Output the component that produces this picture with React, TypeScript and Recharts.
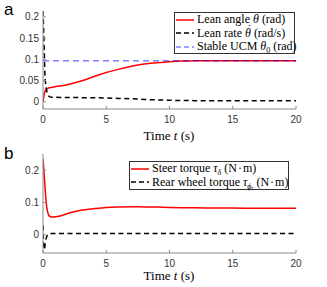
import React from "react";
import { LineChart, Line, XAxis, YAxis } from "recharts";

const times = [0, 0.05, 0.1, 0.15, 0.2, 0.3, 0.4, 0.5, 0.7, 1, 1.5, 2, 3, 4, 5, 6, 7, 8, 9, 10, 11, 12, 14, 16, 18, 20];
const leanAngle = [0, 0.01, 0.018, 0.024, 0.027, 0.03, 0.032, 0.033, 0.034, 0.036, 0.038, 0.041, 0.049, 0.059, 0.069, 0.077, 0.084, 0.089, 0.092, 0.0945, 0.096, 0.0965, 0.097, 0.097, 0.097, 0.097];
const leanRate = [0.214, 0.17, 0.12, 0.065, 0.045, 0.025, 0.016, 0.012, 0.0105, 0.0105, 0.0103, 0.01, 0.0098, 0.0094, 0.009, 0.008, 0.007, 0.0055, 0.0045, 0.0035, 0.003, 0.0027, 0.0025, 0.0024, 0.0024, 0.0024];
const stableUCM = times.map(() => 0.097);
const steerTorque = [0.235, 0.21, 0.18, 0.155, 0.125, 0.085, 0.066, 0.058, 0.055, 0.056, 0.06, 0.067, 0.076, 0.081, 0.085, 0.0865, 0.087, 0.0865, 0.086, 0.085, 0.084, 0.0835, 0.083, 0.0825, 0.0825, 0.0825];
const rearTorque = [0.03, -0.03, -0.045, -0.035, -0.02, -0.005, 0.001, 0.003, 0.004, 0.0045, 0.0045, 0.0045, 0.0045, 0.0045, 0.0045, 0.0045, 0.0045, 0.0045, 0.0045, 0.0045, 0.0045, 0.0045, 0.0045, 0.0045, 0.0045, 0.0045];

const xTicks = [0, 5, 10, 15, 20];
const yTicksA = [0, 0.05, 0.1, 0.15, 0.2];
const yTicksB = [0, 0.1, 0.2];

const dataA = times.map((t, i) => ({ t, lean: leanAngle[i], rate: leanRate[i], ucm: stableUCM[i] }));
const dataB = times.map((t, i) => ({ t, steer: steerTorque[i], rear: rearTorque[i] }));

const FRAME = "#8a8a8a";
const sans = "'Liberation Sans', Arial, sans-serif";
const tickStyle = { fontSize: 10, fill: "#333", fontFamily: sans };
const serif = "'Liberation Serif', 'Times New Roman', serif";
const empty = () => "";

const Sub = ({ children, size = 8, drop = 3 }: any) => (
  <span style={{ fontSize: size, position: "relative", top: drop, lineHeight: 0 }}>{children}</span>
);

const DotTheta = () => (
  <span style={{ position: "relative", display: "inline-block" }}>
    <i>θ</i>
    <span style={{ position: "absolute", left: 2.5, top: -4, fontSize: 12, lineHeight: "12px" }}>˙</span>
  </span>
);

const LegendRow = ({ color, dash, opacity, children }: any) => (
  <div style={{ display: "flex", alignItems: "center", height: 13.6, whiteSpace: "nowrap" }}>
    <svg width={20} height={6} style={{ marginRight: 2, flex: "none" }}>
      <line x1={1} y1={3} x2={19} y2={3} stroke={color} strokeWidth={1.5} strokeDasharray={dash} strokeOpacity={opacity ?? 1} />
    </svg>
    <span>{children}</span>
  </div>
);

export default function App() {
  const axisCommon = { stroke: FRAME, tickSize: -3 } as any;
  return (
    <div style={{ position: "absolute", left: 0, top: 0, width: 327, height: 287, background: "#fff", fontFamily: serif, color: "#000" }}>
      <div style={{ position: "absolute", left: 0, top: 0 }}>
        <LineChart width={327} height={140} data={dataA} margin={{ top: 11, right: 31, left: 0, bottom: 0 }}>
          <XAxis dataKey="t" type="number" domain={[0, 20]} ticks={xTicks} {...axisCommon} tickMargin={10} tick={tickStyle} height={31} allowDataOverflow />
          <XAxis xAxisId="top" orientation="top" dataKey="t" type="number" domain={[0, 20]} ticks={xTicks} {...axisCommon} tickFormatter={empty} height={0} />
          <YAxis type="number" domain={[-0.017, 0.214]} ticks={yTicksA} {...axisCommon} tickMargin={7} tick={tickStyle} width={43} allowDataOverflow />
          <YAxis yAxisId="right" orientation="right" type="number" domain={[-0.017, 0.214]} ticks={yTicksA} {...axisCommon} tickFormatter={empty} width={0} />
          <Line dataKey="lean" stroke="#ff0000" strokeWidth={1.5} dot={false} type="monotone" isAnimationActive={false} />
          <Line dataKey="rate" stroke="#000" strokeWidth={1.5} strokeDasharray="5 3.5" dot={false} type="monotone" isAnimationActive={false} />
          <Line dataKey="ucm" stroke="#0000ff" strokeOpacity={0.5} strokeWidth={1.5} strokeDasharray="6 4" dot={false} type="linear" isAnimationActive={false} />
        </LineChart>
      </div>
      <div style={{ position: "absolute", left: 0, top: 140 }}>
        <LineChart width={327} height={147} data={dataB} margin={{ top: 14, right: 31, left: 0, bottom: 0 }}>
          <XAxis dataKey="t" type="number" domain={[0, 20]} ticks={xTicks} {...axisCommon} tickMargin={10} tick={tickStyle} height={34} allowDataOverflow />
          <XAxis xAxisId="top" orientation="top" dataKey="t" type="number" domain={[0, 20]} ticks={xTicks} {...axisCommon} tickFormatter={empty} height={0} />
          <YAxis type="number" domain={[-0.056, 0.25]} ticks={yTicksB} {...axisCommon} tickMargin={7} tick={tickStyle} width={43} allowDataOverflow />
          <YAxis yAxisId="right" orientation="right" type="number" domain={[-0.056, 0.25]} ticks={yTicksB} {...axisCommon} tickFormatter={empty} width={0} />
          <Line dataKey="steer" stroke="#ff0000" strokeWidth={1.5} dot={false} type="monotone" isAnimationActive={false} />
          <Line dataKey="rear" stroke="#000" strokeWidth={1.5} strokeDasharray="5 3.5" dot={false} type="monotone" isAnimationActive={false} />
        </LineChart>
      </div>

      <div style={{ position: "absolute", left: 4, top: 1.5, fontSize: 17, lineHeight: "16px", fontFamily: sans }}>a</div>
      <div style={{ position: "absolute", left: 4, top: 146, fontSize: 17, lineHeight: "16px", fontFamily: sans }}>b</div>

      <div style={{ position: "absolute", left: 119, width: 100, top: 129, lineHeight: "13px", textAlign: "center", fontSize: 13, whiteSpace: "nowrap" }}>
        Time <i>t</i> (s)
      </div>
      <div style={{ position: "absolute", left: 119, width: 100, top: 269, lineHeight: "13px", textAlign: "center", fontSize: 13, whiteSpace: "nowrap" }}>
        Time <i>t</i> (s)
      </div>

      <div style={{ position: "absolute", left: 174, top: 12, width: 119, height: 40, border: "1px solid #333", background: "#fff", fontSize: 12, lineHeight: "13px", paddingTop: 0 }}>
        <LegendRow color="#ff0000">Lean angle <i>θ</i> (rad)</LegendRow>
        <LegendRow color="#000" dash="5 3">Lean rate <DotTheta /> (rad/s)</LegendRow>
        <LegendRow color="#0000ff" dash="5 3" opacity={0.5}>Stable UCM <i>θ</i><Sub>0</Sub> (rad)</LegendRow>
      </div>
      <div style={{ position: "absolute", left: 129, top: 161, width: 158, height: 27, border: "1px solid #333", background: "#fff", fontSize: 12, lineHeight: "13px", paddingTop: 0 }}>
        <LegendRow color="#ff0000">Steer torque <i>τ</i><Sub><i>δ</i></Sub> (N&#8202;·&#8202;m)</LegendRow>
        <LegendRow color="#000" dash="5 3">Rear wheel torque <i>τ</i><Sub><i>ϕ</i><Sub size={6} drop={1}>r</Sub></Sub> (N&#8202;·&#8202;m)</LegendRow>
      </div>
    </div>
  );
}
